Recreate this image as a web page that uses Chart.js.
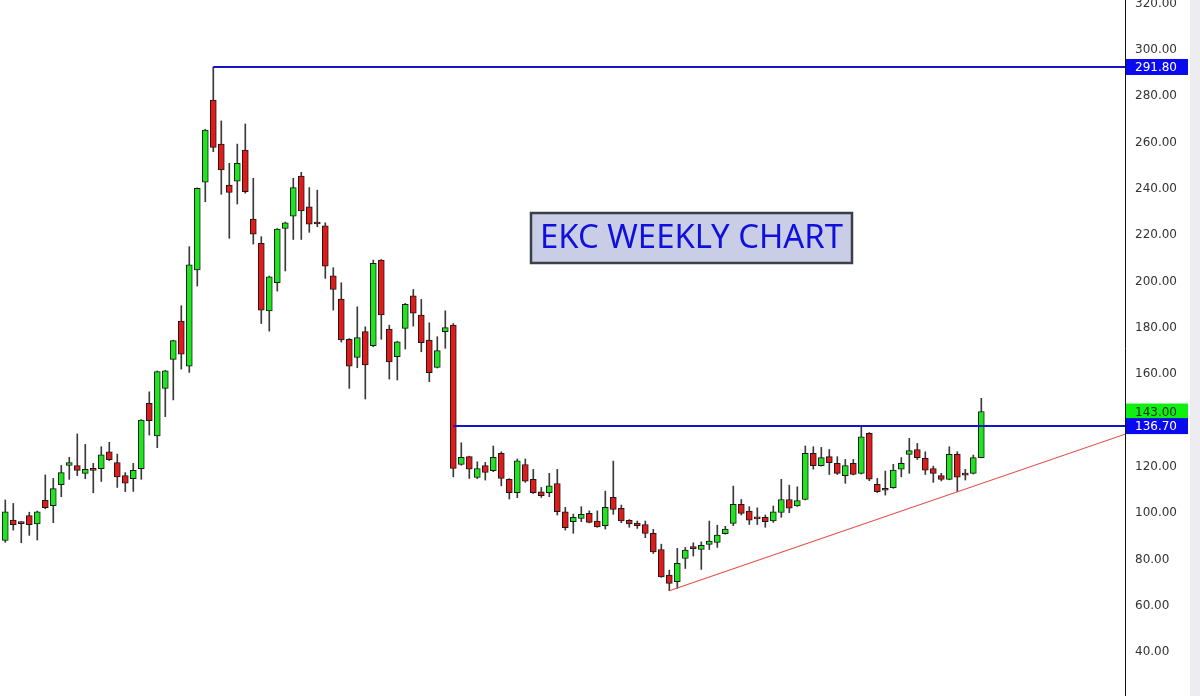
<!DOCTYPE html>
<html>
<head>
<meta charset="utf-8">
<script src="https://cdn.jsdelivr.net/npm/chart.js@4.4.0/dist/chart.umd.min.js"></script>
<style>
  html, body { margin: 0; padding: 0; background: #fff; }
</style>
</head>
<body>
<canvas id="canvas" width="1200" height="696"></canvas>
<script>
// weekly candles, oldest first
var OPEN = [87.3, 96.1, 94.8, 98.0, 94.5, 104.6, 102.3, 111.4, 119.7, 119.6,
  116.3, 117.8, 118.3, 125.6, 120.9, 115.3, 114.0, 118.3, 146.5, 132.5,
  153.0, 165.5, 182.1, 162.6, 204.1, 242.0, 277.5, 258.5, 240.8, 242.5,
  255.9, 226.1, 215.6, 186.4, 198.6, 222.1, 227.4, 244.7, 231.4, 224.4,
  223.2, 201.6, 191.6, 174.2, 166.4, 177.5, 171.4, 208.4, 178.6, 166.7,
  178.9, 193.0, 184.7, 173.9, 162.0, 177.5, 180.3, 120.1, 123.5, 114.5,
  119.6, 117.4, 124.9, 113.7, 107.9, 120.1, 113.7, 108.3, 108.0, 111.9,
  99.7, 95.4, 96.8, 99.0, 95.7, 93.7, 105.9, 101.2, 96.0, 94.8,
  94.2, 90.4, 83.4, 72.4, 69.5, 79.5, 84.0, 83.4, 85.6, 86.5,
  90.2, 94.7, 102.9, 100.0, 96.8, 97.3, 95.8, 99.4, 105.0, 102.2,
  105.0, 124.9, 119.6, 123.5, 120.6, 115.3, 120.6, 116.3, 133.6, 111.5,
  109.2, 110.1, 118.1, 124.5, 126.6, 122.8, 118.4, 115.3, 113.7, 124.5,
  115.7, 116.3, 123.1];
var HIGH = [104.8, 103.3, 95.4, 99.5, 100.0, 115.6, 114.1, 119.7, 123.2, 133.3,
  128.8, 120.6, 127.8, 129.7, 124.6, 116.6, 120.6, 139.5, 151.5, 160.5,
  160.8, 173.8, 188.7, 214.2, 239.6, 264.8, 291.8, 268.5, 250.2, 258.5,
  267.2, 243.7, 218.5, 201.5, 222.0, 224.8, 243.7, 246.3, 239.7, 238.6,
  224.5, 205.1, 198.6, 174.5, 188.2, 179.6, 208.4, 208.6, 180.3, 173.3,
  189.7, 195.7, 191.4, 181.3, 175.3, 186.5, 181.0, 129.5, 123.7, 121.3,
  121.0, 128.1, 125.6, 114.0, 122.5, 122.5, 118.0, 110.2, 116.3, 118.0,
  101.6, 98.7, 101.9, 100.1, 100.1, 108.6, 121.6, 102.6, 96.3, 95.7,
  95.7, 92.1, 85.7, 74.5, 83.9, 84.3, 86.3, 86.7, 95.7, 93.9,
  93.4, 110.8, 105.0, 101.9, 101.4, 98.3, 102.2, 113.7, 111.2, 110.5,
  128.1, 127.8, 127.5, 126.6, 123.5, 122.3, 122.3, 136.4, 133.9, 114.1,
  117.3, 120.2, 123.1, 131.4, 129.2, 125.6, 119.4, 116.3, 127.8, 125.6,
  118.0, 124.2, 148.7];
var LOW = [86.5, 91.8, 86.3, 89.5, 87.5, 101.0, 95.0, 106.2, 113.7, 115.3,
  114.0, 107.9, 112.8, 121.8, 110.2, 108.4, 108.5, 113.7, 132.8, 127.4,
  140.8, 148.0, 161.3, 159.9, 197.2, 233.6, 255.2, 236.8, 217.8, 232.6,
  237.3, 215.3, 181.0, 177.7, 195.0, 203.7, 217.3, 217.3, 220.4, 222.8,
  200.5, 186.8, 173.0, 153.0, 161.9, 148.4, 171.0, 174.2, 157.0, 156.6,
  170.0, 179.9, 168.8, 155.9, 161.8, 170.3, 114.8, 119.8, 114.1, 114.0,
  113.4, 117.0, 110.9, 105.2, 105.8, 112.4, 107.6, 105.9, 106.2, 98.3,
  91.8, 90.4, 95.4, 94.9, 93.0, 92.2, 98.6, 95.0, 93.0, 92.5,
  88.5, 81.7, 71.4, 65.6, 66.6, 75.2, 80.6, 74.8, 83.4, 84.3,
  90.0, 93.7, 98.3, 94.2, 94.2, 93.0, 95.1, 97.3, 99.3, 102.0,
  104.8, 118.1, 119.4, 115.8, 115.8, 112.0, 115.6, 116.0, 113.1, 108.0,
  106.9, 109.8, 114.8, 116.3, 122.3, 115.8, 112.4, 113.0, 113.5, 108.4,
  113.4, 116.0, 123.0];
var CLOSE = [99.7, 94.1, 94.6, 94.1, 99.7, 101.5, 109.7, 116.6, 120.9, 117.6,
  118.0, 117.6, 124.3, 122.2, 114.8, 112.0, 117.6, 139.3, 139.0, 160.2,
  160.6, 173.6, 167.8, 206.3, 239.4, 264.6, 257.1, 247.3, 237.6, 250.2,
  237.9, 219.6, 186.8, 201.2, 221.8, 224.5, 239.7, 229.6, 223.9, 224.0,
  205.8, 195.7, 173.9, 162.6, 174.9, 163.1, 207.0, 184.7, 164.4, 173.1,
  189.3, 185.5, 172.7, 159.8, 169.3, 179.2, 118.4, 123.2, 118.1, 118.4,
  116.7, 123.2, 114.1, 107.9, 121.7, 112.9, 107.9, 106.6, 110.9, 99.7,
  92.8, 97.3, 98.6, 95.1, 93.2, 101.6, 100.7, 95.7, 94.5, 93.7,
  90.4, 82.4, 71.6, 68.8, 77.4, 83.2, 83.8, 85.2, 87.0, 89.6,
  92.2, 102.9, 99.0, 96.1, 96.6, 95.4, 99.7, 105.0, 101.2, 104.5,
  124.9, 119.6, 123.1, 120.9, 116.3, 119.6, 115.8, 132.1, 113.8, 108.4,
  109.0, 117.7, 120.6, 126.1, 123.1, 117.7, 116.3, 113.7, 124.5, 114.6,
  115.5, 123.1, 143.0];

var Y_TICKS = [320, 300, 280, 260, 240, 220, 200, 180, 160, 140, 120, 100, 80, 60, 40];
var Y_MIN = 20.13, Y_MAX = 320.73;
var X_MIN = -0.66, X_MAX = 139.96;

var HIGH_LEVEL = 291.8, HIGH_FROM = 26;     // all time high line
var BREAK_LEVEL = 136.7, BREAK_FROM = 56;   // breakout level
var TREND_FROM = 83, TREND_END = 133.2;     // rising support
var LAST_PRICE = 143.0;
var TITLE = 'EKC WEEKLY CHART';

var GREEN = '#1fe51f', RED = '#e01b1b', BLUE = '#1515c4';

var bodies = [], wicks = [], colors = [];
for (var i = 0; i < OPEN.length; i++) {
  bodies.push({x: i, y: [OPEN[i], CLOSE[i]]});
  wicks.push({x: i, y: [LOW[i], HIGH[i]]});
  colors.push(CLOSE[i] >= OPEN[i] ? GREEN : RED);
}

function pad2(v) { return v.toFixed(2); }

var priceLabels = {
  id: 'priceLabels',
  beforeDraw: function(chart) {
    var ctx = chart.ctx;
    ctx.save();
    ctx.fillStyle = '#fff';
    ctx.fillRect(0, 0, chart.width, chart.height);
    ctx.fillStyle = '#ececf1';
    ctx.fillRect(chart.width - 10, 0, 10, chart.height);
    ctx.restore();
  },
  afterDraw: function(chart) {
    var ctx = chart.ctx, y = chart.scales.y, left = chart.chartArea.right + 1;
    var tags = [
      {v: HIGH_LEVEL, bg: '#0a0af0', fg: '#fff'},
      {v: LAST_PRICE, bg: '#10f010', fg: '#0b2a0b'},
      {v: BREAK_LEVEL, bg: '#0a0af0', fg: '#fff'}
    ];
    ctx.save();
    ctx.font = '12px "DejaVu Sans"';
    ctx.textBaseline = 'middle';
    ctx.textAlign = 'left';
    tags.forEach(function(t) {
      var py = y.getPixelForValue(t.v);
      ctx.fillStyle = t.bg;
      ctx.fillRect(left, py - 8, 62, 16);
      ctx.fillStyle = t.fg;
      ctx.fillText(pad2(t.v), left + 9, py + 1);
    });

    // title box
    ctx.fillStyle = '#c9cde6';
    ctx.fillRect(531, 213, 321, 50);
    ctx.strokeStyle = '#3b3f4a';
    ctx.lineWidth = 2.5;
    ctx.strokeRect(531, 213, 321, 50);
    ctx.fillStyle = '#1010dd';
    ctx.font = '33px "Noto Sans"';
    ctx.textAlign = 'center';
    ctx.fillText(TITLE, 691.5, 239, 303);
    ctx.restore();
  }
};

var config = {
  type: 'bar',
  data: {
    datasets: [{
      data: bodies,
      backgroundColor: colors,
      borderColor: '#1a1a1a',
      borderWidth: 1,
      borderSkipped: false,
      barThickness: 6,
      minBarLength: 2,
      grouped: false,
      order: 1
    }, {
      data: wicks,
      backgroundColor: '#3a3a3a',
      borderWidth: 0,
      barThickness: 1,
      grouped: false,
      order: 2
    }, {
      type: 'line',
      data: [{x: HIGH_FROM, y: HIGH_LEVEL}, {x: X_MAX, y: HIGH_LEVEL}],
      borderColor: BLUE,
      borderWidth: 2,
      pointRadius: 0,
      order: 0
    }, {
      type: 'line',
      data: [{x: BREAK_FROM, y: BREAK_LEVEL}, {x: X_MAX, y: BREAK_LEVEL}],
      borderColor: BLUE,
      borderWidth: 2,
      pointRadius: 0,
      order: 0
    }, {
      type: 'line',
      data: [{x: TREND_FROM, y: LOW[TREND_FROM]}, {x: X_MAX, y: TREND_END}],
      borderColor: '#e4504a',
      borderWidth: 1.2,
      pointRadius: 0,
      order: 0
    }]
  },
  options: {
    responsive: false,
    animation: false,
    devicePixelRatio: 1,
    layout: { padding: 0 },
    plugins: { legend: { display: false }, tooltip: { enabled: false } },
    scales: {
      x: { type: 'linear', min: X_MIN, max: X_MAX, display: false, offset: false },
      y: {
        position: 'right',
        min: Y_MIN, max: Y_MAX,
        grid: { display: false, drawTicks: false },
        border: { display: true, color: '#111', width: 1 },
        ticks: {
          color: '#333',
          padding: 10,
          labelOffset: 2,
          font: { family: 'DejaVu Sans', size: 12 },
          callback: function(v) { return pad2(v); }
        },
        afterBuildTicks: function(s) {
          s.ticks = Y_TICKS.map(function(v) { return {value: v}; });
        },
        afterFit: function(s) {
          s.width = 75;
          s.paddingTop = 0;
          s.paddingBottom = 0;
        }
      }
    }
  },
  plugins: [priceLabels]
};

window.onload = function() {
  var ctx = document.getElementById('canvas').getContext('2d');
  window.myChart = new Chart(ctx, config);
};
</script>
</body>
</html>
